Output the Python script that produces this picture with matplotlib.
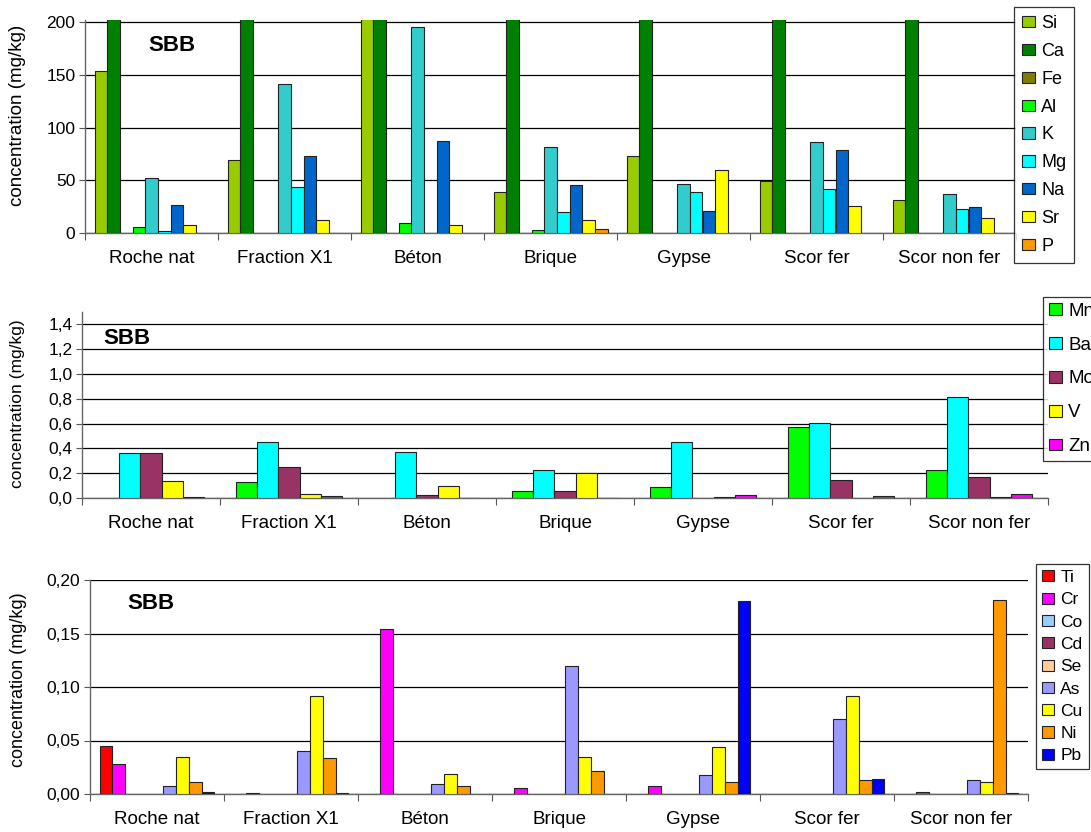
#!/usr/bin/env python3

"""
SBB leaching concentrations by material, three panels (major, minor, trace elements)
"""

from typing import List

import numpy as np
import matplotlib

matplotlib.use("Agg")
import matplotlib.pyplot as plt
from matplotlib import ticker

plt.rcParams["font.family"] = ["Liberation Sans", "DejaVu Sans"]

# Data

categories: List[str] = [
    "Roche nat",
    "Fraction X1",
    "Béton",
    "Brique",
    "Gypse",
    "Scor fer",
    "Scor non fer",
]

# Panel 1: major elements (mg/kg); Ca (and Béton Si) run off the top of the chart
major_names: List[str] = ["Si", "Ca", "Fe", "Al", "K", "Mg", "Na", "Sr", "P"]
si: List[float] = [154, 69, 240, 39, 73, 49.5, 31]
ca: List[float] = [420, 380, 450, 400, 460, 410, 430]
fe: List[float] = [0, 0, 0, 0, 0, 0, 0]
al: List[float] = [5.7, 0, 9.5, 2.5, 0, 0, 0]
k: List[float] = [52, 141, 195, 81.5, 46, 86.5, 37]
mg: List[float] = [2, 43.5, 0, 20, 39, 42, 23]
na: List[float] = [26.5, 73, 87, 45.5, 21, 79, 24.5]
sr: List[float] = [7.6, 12, 7.6, 12.3, 60, 26, 14]
p: List[float] = [0, 0, 0, 3.5, 0, 0, 0]

# Panel 2: minor elements (mg/kg)
minor_names: List[str] = ["Mn", "Ba", "Mo", "V", "Zn"]
mn: List[float] = [0, 0.129, 0, 0.059, 0.092, 0.571, 0.229]
ba: List[float] = [0.361, 0.455, 0.374, 0.223, 0.455, 0.608, 0.813]
mo: List[float] = [0.361, 0.248, 0.027, 0.054, 0, 0.148, 0.172]
v: List[float] = [0.14, 0.035, 0.097, 0.2, 0.005, 0, 0.005]
zn: List[float] = [0.011, 0.019, 0.003, 0.003, 0.022, 0.019, 0.03]

# Panel 3: trace elements (mg/kg)
trace_names: List[str] = ["Ti", "Cr", "Co", "Cd", "Se", "As", "Cu", "Ni", "Pb"]
ti: List[float] = [0.0452, 0, 0, 0, 0, 0, 0]
cr: List[float] = [0.0277, 0.001, 0.1539, 0.006, 0.0072, 0, 0.002]
co: List[float] = [0, 0, 0, 0, 0, 0, 0]
cd: List[float] = [0, 0, 0, 0, 0, 0, 0]
se: List[float] = [0, 0, 0, 0, 0, 0, 0]
as_: List[float] = [0.0072, 0.040, 0.0093, 0.120, 0.0174, 0.0698, 0.0134]
cu: List[float] = [0.0349, 0.0913, 0.019, 0.0343, 0.0436, 0.0913, 0.0109]
ni: List[float] = [0.0109, 0.0333, 0.0072, 0.0212, 0.0109, 0.013, 0.1813]
pb: List[float] = [0.0022, 0.0005, 0, 0, 0.180, 0.014, 0.0005]

major_colors: List[str] = [
    "#99CC00", "#008000", "#808000", "#00FF00", "#33CCCC",
    "#00FFFF", "#0066CC", "#FFFF00", "#FF9900",
]
minor_colors: List[str] = ["#00FF00", "#00FFFF", "#993366", "#FFFF00", "#FF00FF"]
trace_colors: List[str] = [
    "#FF0000", "#FF00FF", "#99CCFF", "#993366", "#FFCC99",
    "#9999FF", "#FFFF00", "#FF9900", "#0000FF",
]

W, H = 1091, 832


def comma_fmt(decimals: int):
    return ticker.FuncFormatter(
        lambda val, pos: f"{val:.{decimals}f}".replace(".", ",")
    )


def draw_panel(fig, box_px, series, names, colors, ylim, yticks, fmt,
               sbb_xy, ylabel_cfg, legend_cfg):
    # box_px = (left, top, right, bottom) in figure pixels
    left, top, right, bottom = box_px
    ax = fig.add_axes([left / W, 1 - bottom / H, (right - left) / W, (bottom - top) / H])
    n_cat = len(categories)
    n_ser = len(series)
    x = np.arange(n_cat)
    width = 1.0 / (n_ser + 1.5)  # Excel-style 150% gap

    for i, (vals, name, color) in enumerate(zip(series, names, colors)):
        heights = np.array(vals, dtype=float)
        heights[heights == 0] = np.nan
        offset = (i - (n_ser - 1) / 2) * width
        ax.bar(
            x + offset,
            heights,
            width=width,
            color=color,
            edgecolor="#222222",
            linewidth=0.8,
            label=name,
            zorder=3,
        )

    ax.set_xlim(-0.5, n_cat - 0.5)
    ax.set_ylim(*ylim)
    ax.set_yticks(yticks)
    ax.yaxis.set_major_formatter(fmt)

    # category boundaries as ticks, labels centred between them
    ax.set_xticks(np.arange(n_cat + 1) - 0.5)
    ax.set_xticklabels([])
    ax.set_xticks(x, minor=True)
    ax.set_xticklabels(categories, minor=True, fontsize=13.5)
    ax.tick_params(axis="x", which="major", length=5, color="#555555", direction="out")
    ax.tick_params(axis="x", which="minor", length=0, pad=12)
    ax.tick_params(axis="y", length=4, color="#555555", labelsize=12.5, pad=3)

    ax.grid(axis="y", color="black", linewidth=0.9, zorder=0)
    ax.set_axisbelow(True)
    for side in ["top", "right"]:
        ax.spines[side].set_visible(False)
    for side in ["left", "bottom"]:
        ax.spines[side].set_color("#666666")
        ax.spines[side].set_linewidth(1.0)

    # y label: right edge x (px), centre y (px), font size
    lab_x, lab_y, lab_size = ylabel_cfg
    ax.set_ylabel("concentration (mg/kg)", fontsize=lab_size)
    ax.yaxis.set_label_coords((lab_x - left) / (right - left), (bottom - lab_y) / (bottom - top))

    ax.text(*sbb_xy, "SBB", transform=ax.transAxes, fontsize=16, fontweight="bold", va="center")

    # legend: top-left corner (px), font size, row spacing, border pad
    leg_x, leg_y, leg_size, leg_spacing, leg_pad = legend_cfg
    leg = ax.legend(
        loc="upper left",
        bbox_to_anchor=(leg_x / W, 1 - leg_y / H),
        bbox_transform=fig.transFigure,
        borderaxespad=0,
        frameon=True,
        fancybox=False,
        edgecolor="black",
        fontsize=leg_size,
        handlelength=0.7,
        handleheight=0.6,
        handletextpad=0.35,
        labelspacing=leg_spacing,
        borderpad=leg_pad,
    )
    leg.get_frame().set_linewidth(0.9)
    leg.set_zorder(5)
    return ax


def main() -> None:
    fig = plt.figure(figsize=(W / 100, H / 100), dpi=100)

    # Top panel: major elements
    draw_panel(
        fig,
        (85, 20, 1016, 233),
        [si, ca, fe, al, k, mg, na, sr, p],
        major_names,
        major_colors,
        (0, 202),
        [0, 50, 100, 150, 200],
        ticker.FormatStrFormatter("%d"),
        (0.068, 0.88),
        (26, 115, 13.5),
        (1014, 7, 13, 0.6, 0.45),
    )

    # Middle panel: minor elements
    draw_panel(
        fig,
        (82, 312, 1048, 498),
        [mn, ba, mo, v, zn],
        minor_names,
        minor_colors,
        (0, 1.5),
        [0, 0.2, 0.4, 0.6, 0.8, 1.0, 1.2, 1.4],
        comma_fmt(1),
        (0.022, 0.86),
        (25, 404, 12.5),
        (1043, 297, 13.5, 0.9, 0.3),
    )

    # Bottom panel: trace elements
    draw_panel(
        fig,
        (90, 580, 1028, 794),
        [ti, cr, co, cd, se, as_, cu, ni, pb],
        trace_names,
        trace_colors,
        (0, 0.2),
        [0, 0.05, 0.10, 0.15, 0.20],
        comma_fmt(2),
        (0.04, 0.89),
        (27, 680, 13),
        (1036, 564, 12.5, 0.42, 0.35),
    )

    fig.savefig("out.png", dpi=100)


if __name__ == "__main__":
    main()
